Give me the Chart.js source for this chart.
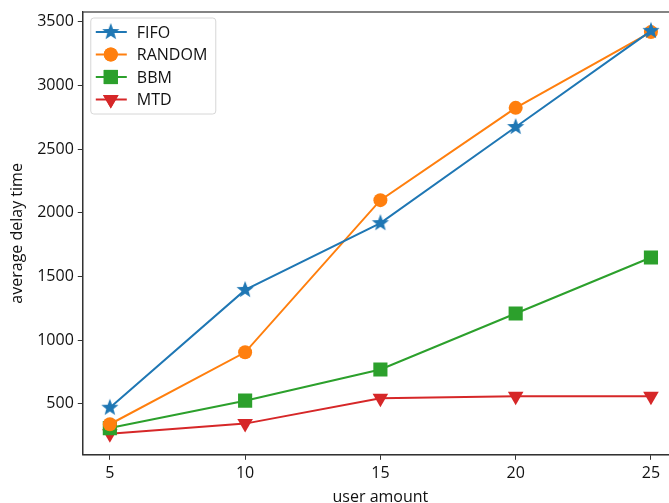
<!DOCTYPE html>
<html lang="en">
<head>
    <meta charset="UTF-8">
    <title>average delay time vs user amount</title>
    <script src="https://cdn.jsdelivr.net/npm/chart.js"></script>
    <style>
        html, body {
            margin: 0;
            padding: 0;
            background: #fff;
            overflow: hidden;
        }
        #wrap {
            width: 690px;
            height: 503px;
        }
    </style>
</head>
<body>
    <div id="wrap"><canvas id="chart"></canvas></div>

    <script>
        // data
        const userAmount = [5, 10, 15, 20, 25];
        const fifo   = [470, 1395, 1920, 2675, 3430];
        const random = [340, 905, 2100, 2825, 3420];
        const bbm    = [310, 525, 770, 1210, 1650];
        const mtd    = [265, 345, 545, 560, 560];
        const xTicks = [5, 10, 15, 20, 25];
        const yTicks = [500, 1000, 1500, 2000, 2500, 3000, 3500];

        const FONT = '"Open Sans", "DejaVu Sans", sans-serif';

        // filled five point star like matplotlib's '*'
        function makeStar(color, outer) {
            const c = document.createElement('canvas');
            const s = Math.ceil(outer * 2) + 2;
            c.width = s; c.height = s;
            const g = c.getContext('2d');
            const inner = outer * 0.42;
            g.beginPath();
            for (let i = 0; i < 10; i++) {
                const r = i % 2 === 0 ? outer : inner;
                const a = -Math.PI / 2 + i * Math.PI / 5;
                const px = s / 2 + r * Math.cos(a), py = s / 2 + r * Math.sin(a);
                if (i === 0) g.moveTo(px, py); else g.lineTo(px, py);
            }
            g.closePath();
            g.fillStyle = color;
            g.fill();
            return c;
        }
        const star = makeStar('#1f77b4', 9);

        function series(label, values, color, style, radius, rotation) {
            return {
                label: label,
                data: userAmount.map((x, i) => ({ x: x, y: values[i] })),
                borderColor: color,
                backgroundColor: color,
                borderWidth: 2,
                pointStyle: style,
                pointRadius: radius,
                pointRotation: rotation || 0,
                pointBorderWidth: 0,
                pointHoverRadius: radius,
                fill: false,
                tension: 0
            };
        }

        // frame on all four sides + legend box
        const framePlugin = {
            id: 'frame',
            afterDatasetsDraw(chart) {
                const { ctx, chartArea: a } = chart;
                ctx.save();
                ctx.strokeStyle = '#333';
                ctx.lineWidth = 1.2;
                ctx.strokeRect(a.left, a.top, a.right - a.left, a.bottom - a.top);

                // legend
                const x0 = a.left + 8, y0 = a.top + 6, w = 125, h = 96;
                ctx.fillStyle = 'rgba(255,255,255,0.85)';
                ctx.strokeStyle = '#d6d6d6';
                ctx.lineWidth = 1;
                ctx.beginPath();
                ctx.roundRect(x0, y0, w, h, 3);
                ctx.fill();
                ctx.stroke();
                ctx.font = '16px ' + FONT;
                ctx.textBaseline = 'middle';
                chart.data.datasets.forEach((ds, i) => {
                    const yy = y0 + 14 + i * 22.5;
                    ctx.strokeStyle = ds.borderColor;
                    ctx.lineWidth = 2;
                    ctx.beginPath();
                    ctx.moveTo(x0 + 5, yy);
                    ctx.lineTo(x0 + 36, yy);
                    ctx.stroke();
                    const mx = x0 + 20;
                    if (ds.pointStyle instanceof HTMLCanvasElement) {
                        ctx.drawImage(ds.pointStyle, mx - ds.pointStyle.width / 2, yy - ds.pointStyle.height / 2);
                    } else {
                        ctx.fillStyle = ds.backgroundColor;
                        Chart.helpers.drawPoint(ctx, {
                            pointStyle: ds.pointStyle,
                            radius: ds.pointRadius,
                            rotation: ds.pointRotation,
                            borderWidth: 0
                        }, mx, yy);
                        ctx.fill();
                    }
                    ctx.fillStyle = '#111';
                    ctx.fillText(ds.label, x0 + 46, yy + 1);
                });
                ctx.restore();
            }
        };

        new Chart(document.getElementById('chart'), {
            type: 'line',
            data: {
                datasets: [
                    series('FIFO', fifo, '#1f77b4', star, 9),
                    series('RANDOM', random, '#ff7f0e', 'circle', 7),
                    series('BBM', bbm, '#2ca02c', 'rect', 10),
                    series('MTD', mtd, '#d62728', 'triangle', 9, 180)
                ]
            },
            options: {
                responsive: true,
                maintainAspectRatio: false,
                animation: false,
                events: [],
                layout: { padding: { left: 8, right: 12, top: 0, bottom: -4 } },
                plugins: {
                    legend: { display: false },
                    tooltip: { enabled: false }
                },
                scales: {
                    x: {
                        type: 'linear',
                        min: 4,
                        max: 26,
                        afterBuildTicks: axis => { axis.ticks = xTicks.map(v => ({ value: v })); },
                        grid: { drawOnChartArea: false, color: '#333', tickLength: 5 },
                        border: { color: '#333', width: 1.2 },
                        ticks: { color: '#111', font: { family: FONT, size: 16, lineHeight: 1 }, padding: 6, maxRotation: 0, callback: v => String(v) },
                        title: { display: true, text: 'user amount', color: '#111', font: { family: FONT, size: 16 }, padding: { top: 0, bottom: 0 } }
                    },
                    y: {
                        min: 100,
                        max: 3578,
                        afterBuildTicks: axis => { axis.ticks = yTicks.map(v => ({ value: v })); },
                        grid: { drawOnChartArea: false, color: '#333', tickLength: 5 },
                        border: { color: '#333', width: 1.2 },
                        ticks: { color: '#111', font: { family: FONT, size: 16, lineHeight: 1 }, padding: 4, callback: v => String(v) },
                        title: { display: true, text: 'average delay time', color: '#111', font: { family: FONT, size: 16 }, padding: { top: 0, bottom: 6 } }
                    }
                }
            },
            plugins: [framePlugin]
        });
    </script>
</body>
</html>
